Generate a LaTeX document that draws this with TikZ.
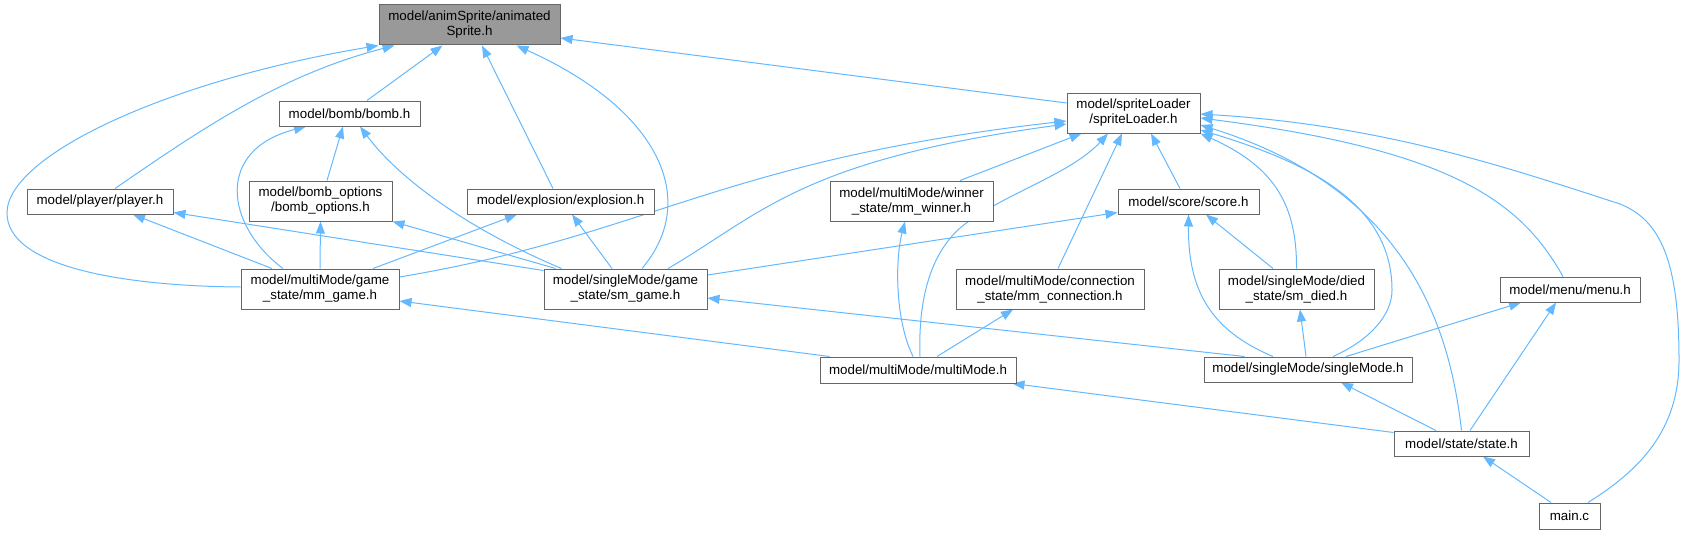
\documentclass[tikz,border=0pt]{standalone}
\usepackage{fontspec}
\setmainfont{Liberation Sans}
\usepackage{xcolor}
\definecolor{depblue}{HTML}{63B8FF}
\definecolor{boxgray}{HTML}{666666}
\definecolor{selgray}{HTML}{999999}
\usepackage{tikz}
\usetikzlibrary{arrows.meta, backgrounds}

\begin{document}
\begin{tikzpicture}[x=0.75pt, y=-0.75pt,
  box/.style={rectangle, draw=boxgray, line width=0.75pt, fill=white, inner sep=0pt,
    align=center, font=\fontsize{10}{11.25}\selectfont},
  one/.style={box, minimum height=18.75pt},
  two/.style={box, minimum height=30pt},
  dep/.style={draw=depblue, line width=0.75pt, -{Triangle[length=9pt, width=6.75pt]}}
]
\useasboundingbox (0,0) rectangle (1683,535);

\node[two, fill=selgray, minimum width=135.75pt] (sprite) at (469.5,25) {model/animSprite/animated\\Sprite.h};
\node[two, minimum width=99.75pt] (loader) at (1133.5,113) {model/spriteLoader\\/spriteLoader.h};
\node[one, minimum width=105.75pt] (bomb) at (349.5,113.5) {model/bomb/bomb.h};
\node[one, minimum width=109.5pt] (player) at (100,201.5) {model/player/player.h};
\node[two, minimum width=107.25pt] (bombopt) at (320.5,201) {model/bomb\_options\\/bomb\_options.h};
\node[one, minimum width=140.25pt] (explosion) at (560.5,201.5) {model/explosion/explosion.h};
\node[two, minimum width=122.25pt] (winner) at (911.5,201) {model/multiMode/winner\\\_state/mm\_winner.h};
\node[one, minimum width=105.75pt] (score) at (1188.5,201.5) {model/score/score.h};
\node[two, minimum width=118.5pt] (mmgame) at (320,289) {model/multiMode/game\\\_state/mm\_game.h};
\node[two, minimum width=122.25pt] (smgame) at (625.5,289) {model/singleMode/game\\\_state/sm\_game.h};
\node[two, minimum width=141pt] (conn) at (1050,289) {model/multiMode/connection\\\_state/mm\_connection.h};
\node[two, minimum width=116.25pt] (died) at (1296.5,289) {model/singleMode/died\\\_state/sm\_died.h};
\node[one, minimum width=105pt] (menu) at (1570,289.5) {model/menu/menu.h};
\node[one, minimum width=147pt, minimum height=19.5pt] (multi) at (918,370) {model/multiMode/multiMode.h};
\node[one, minimum width=156pt] (single) at (1308,369.5) {model/singleMode/singleMode.h};
\node[one, minimum width=101.25pt] (state) at (1461.5,443.5) {model/state/state.h};
\node[one, minimum width=45.75pt, minimum height=19.5pt] (mainc) at (1569.5,516) {main.c};

\begin{scope}[on background layer]
\draw[dep] ([shift={(0,-2)}]mmgame.west) .. controls (120,286) and (7,266) .. (7,213)
  .. controls (7,155) and (170,80) .. (sprite.south west);
\draw[dep] ([shift={(15,0)}]player.north) .. controls (200,130) and (280,75) .. ([shift={(16,0)}]sprite.south west);
\draw[dep] ([shift={(17.5,0)}]bomb.north) -- ([shift={(64,0)}]sprite.south west);
\draw[dep] ([shift={(-7.5,0)}]explosion.north) -- ([shift={(12.5,0)}]sprite.south);
\draw[dep] ([shift={(16.5,0)}]smgame.north) .. controls (700,200) and (660,110) .. ([shift={(-44,0)}]sprite.south east);
\draw[dep] ([shift={(0,-10)}]loader.west) -- ([shift={(0,13)}]sprite.east);

\draw[dep] ([shift={(0,-12)}]mmgame.east) .. controls (650,235) and (720,160) .. ([shift={(0,8)}]loader.west);
\draw[dep] ([shift={(42.5,0)}]smgame.north) .. controls (760,215) and (800,160) .. ([shift={(0,11)}]loader.west);
\draw[dep] ([shift={(48.5,0)}]winner.north) -- ([shift={(15,0)}]loader.south west);
\draw[dep] ([shift={(2,0)}]multi.north) .. controls (918,300) and (930,255) .. (960,228)
  .. controls (1000,195) and (1070,175) .. ([shift={(-25.5,0)}]loader.south);
\draw[dep] ([shift={(8,0)}]conn.north) -- ([shift={(-11.5,0)}]loader.south);
\draw[dep] ([shift={(-8.5,0)}]score.north) -- ([shift={(17.5,0)}]loader.south);
\draw[dep] (died.north) .. controls (1297,200) and (1270,165) .. (loader.south east);
\draw[dep] ([shift={(25,0)}]single.north) .. controls (1370,340) and (1392,315) .. (1392,290)
  .. controls (1392,200) and (1300,160) .. ([shift={(0,17)}]loader.east);
\draw[dep] (state.north) .. controls (1450,330) and (1410,190) .. ([shift={(0,12)}]loader.east);
\draw[dep] ([shift={(-7,0)}]menu.north) .. controls (1520,200) and (1450,150) .. ([shift={(0,5)}]loader.east);
\draw[dep] ([shift={(18.5,0)}]mainc.north) .. controls (1640,470) and (1679,430) .. (1679,360)
  .. controls (1679,260) and (1660,220) .. (1620,204)
  .. controls (1500,165) and (1380,125) .. ([shift={(0,1)}]loader.east);

\draw[dep] ([shift={(-37,0)}]mmgame.north) .. controls (225,225) and (215,150) .. ([shift={(-43.5,0)}]bomb.south);
\draw[dep] ([shift={(6.5,0)}]bombopt.north) -- ([shift={(-6.5,0)}]bomb.south);
\draw[dep] ([shift={(18,0)}]smgame.north west) .. controls (470,230) and (400,180) .. ([shift={(10.5,0)}]bomb.south);
\draw[dep] ([shift={(-48,0)}]mmgame.north) -- ([shift={(33,0)}]player.south);
\draw[dep] ([shift={(0,2)}]smgame.north west) -- ([shift={(0,-2)}]player.south east);
\draw[dep] (mmgame.north) -- (bombopt.south);
\draw[dep] ([shift={(12,0)}]smgame.north west) -- (bombopt.south east);
\draw[dep] ([shift={(53,0)}]mmgame.north) -- ([shift={(-43.5,0)}]explosion.south);
\draw[dep] ([shift={(-13.5,0)}]smgame.north) -- ([shift={(11.5,0)}]explosion.south);

\draw[dep] ([shift={(-5,0)}]multi.north) .. controls (895,320) and (895,260) .. ([shift={(-6.5,0)}]winner.south);
\draw[dep] ([shift={(0,-14)}]smgame.east) -- ([shift={(0,-2)}]score.south west);
\draw[dep] ([shift={(-35,0)}]single.north) .. controls (1210,330) and (1188,290) .. (score.south);
\draw[dep] ([shift={(-23.5,0)}]died.north) -- ([shift={(17.5,0)}]score.south);
\draw[dep] ([shift={(10,0)}]multi.north west) -- ([shift={(0,12)}]mmgame.east);
\draw[dep] ([shift={(41,0)}]single.north west) -- ([shift={(0,9)}]smgame.east);
\draw[dep] ([shift={(19,0)}]multi.north) -- ([shift={(-37,0)}]conn.south);
\draw[dep] ([shift={(-2,0)}]single.north) -- ([shift={(3.5,0)}]died.south);
\draw[dep] ([shift={(38,0)}]single.north) -- ([shift={(-49,0)}]menu.south);
\draw[dep] ([shift={(8.5,0)}]state.north) -- ([shift={(-14,0)}]menu.south);
\draw[dep] ([shift={(0,2)}]state.north west) -- ([shift={(-4,0)}]multi.south east);
\draw[dep] ([shift={(-25.5,0)}]state.north) -- ([shift={(33,0)}]single.south);
\draw[dep] ([shift={(-18.5,0)}]mainc.north) -- ([shift={(21.5,0)}]state.south);
\end{scope}
\end{tikzpicture}
\end{document}
